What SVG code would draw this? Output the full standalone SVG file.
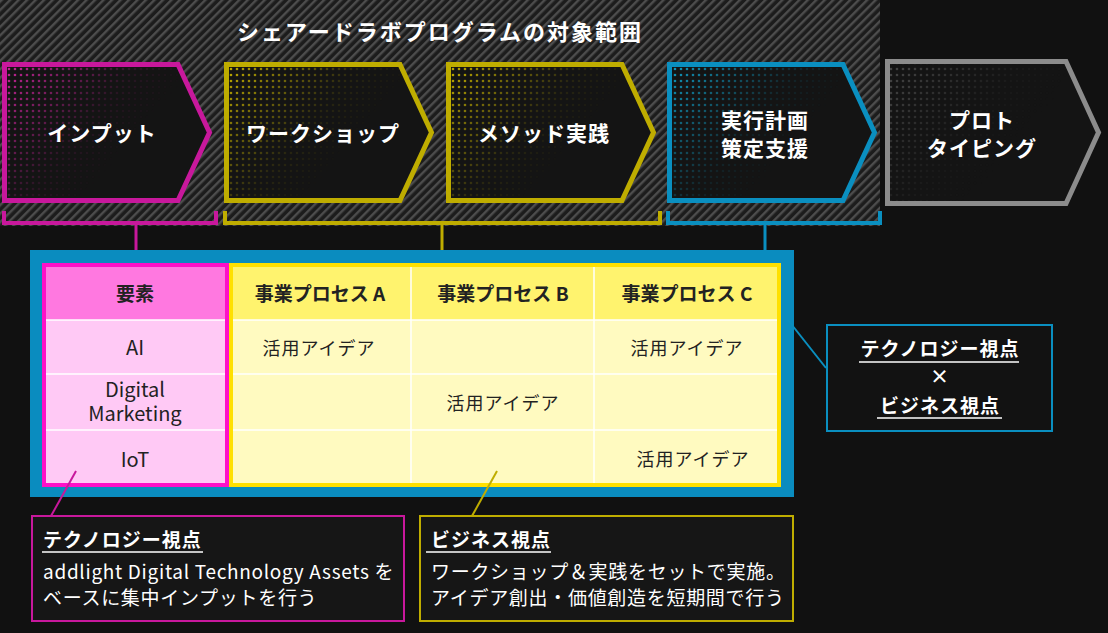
<svg xmlns="http://www.w3.org/2000/svg" width="1108" height="633" viewBox="0 0 1108 633">
<style>
text{font-family:"Noto Sans CJK JP","Noto Sans",sans-serif;}
.t-chev{font-size:21px;font-weight:700;fill:#fff;text-anchor:middle;letter-spacing:1px;}
.t-title{font-size:22px;font-weight:700;fill:#fff;text-anchor:middle;letter-spacing:2px;}
.t-head{font-size:19px;font-weight:700;fill:#222;text-anchor:middle;}
.t-cell{font-size:20px;fill:#222;text-anchor:middle;}
.t-idea{font-size:18px;fill:#222;text-anchor:middle;letter-spacing:1px;}
.t-cbold{font-size:19px;font-weight:700;fill:#fff;letter-spacing:1px;}
.t-cbody{font-size:19px;fill:#fff;letter-spacing:0.7px;}
.chev-bg{fill:#141414;}
.chev-line{fill:none;stroke-width:5;stroke-linejoin:miter;}
.under{stroke:#fff;stroke-width:1.6;}
.sep{stroke:#fff;stroke-width:1.5;}
</style>
<defs>
<pattern id="hatch" width="6" height="6" patternUnits="userSpaceOnUse" patternTransform="rotate(45)">
<rect width="6" height="6" fill="#1c1c1c"/>
<rect width="2.4" height="6" fill="#4d4d4d"/>
</pattern>
<pattern id="dotM" width="6" height="6" patternUnits="userSpaceOnUse"><circle cx="3" cy="3" r="1.3" fill="#d0259f"/></pattern>
<pattern id="dotY" width="6" height="6" patternUnits="userSpaceOnUse"><circle cx="3" cy="3" r="1.3" fill="#c9b400"/></pattern>
<pattern id="dotB" width="6" height="6" patternUnits="userSpaceOnUse"><circle cx="3" cy="3" r="1.3" fill="#10a0c8"/></pattern>
<pattern id="dotG" width="6" height="6" patternUnits="userSpaceOnUse"><circle cx="3" cy="3" r="1.3" fill="#4a4a4a"/></pattern>
<linearGradient id="fadeG" x1="0" y1="0" x2="0.9" y2="0.5">
<stop offset="0" stop-color="#fff" stop-opacity="0.95"/>
<stop offset="0.25" stop-color="#fff" stop-opacity="0.55"/>
<stop offset="0.55" stop-color="#fff" stop-opacity="0.12"/>
<stop offset="0.8" stop-color="#fff" stop-opacity="0"/>
</linearGradient>
<mask id="fade" maskContentUnits="objectBoundingBox">
<rect width="1" height="1" fill="url(#fadeG)"/>
</mask>
</defs>

<rect width="1108" height="633" fill="#111"/>
<rect x="0" y="0" width="880" height="226" fill="url(#hatch)"/>
<text class="t-title" x="440" y="40">シェアードラボプログラムの対象範囲</text>

<g id="node-input">
<path class="chev-bg" d="M4.5,64.5 H178 L209.5,132.5 L178,200.5 H4.5 Z"/>
<path fill="url(#dotM)" mask="url(#fade)" d="M7,67 H176 L207,132.5 L176,198 H7 Z"/>
<path class="chev-line" stroke="#c8189c" d="M4.5,64.5 H178 L209.5,132.5 L178,200.5 H4.5 Z"/>
<text class="t-chev" x="102" y="141">インプット</text>
</g>
<g id="node-workshop">
<path class="chev-bg" d="M226.5,64.5 H400 L431.5,132.5 L400,200.5 H226.5 Z"/>
<path fill="url(#dotY)" mask="url(#fade)" d="M229,67 H398 L429,132.5 L398,198 H229 Z"/>
<path class="chev-line" stroke="#bfad00" d="M226.5,64.5 H400 L431.5,132.5 L400,200.5 H226.5 Z"/>
<text class="t-chev" x="323" y="141">ワークショップ</text>
</g>
<g id="node-method">
<path class="chev-bg" d="M448.5,64.5 H622 L653.5,132.5 L622,200.5 H448.5 Z"/>
<path fill="url(#dotY)" mask="url(#fade)" d="M451,67 H620 L651,132.5 L620,198 H451 Z"/>
<path class="chev-line" stroke="#bfad00" d="M448.5,64.5 H622 L653.5,132.5 L622,200.5 H448.5 Z"/>
<text class="t-chev" x="544" y="141">メソッド実践</text>
</g>
<g id="node-plan">
<path class="chev-bg" d="M669.5,64.5 H843 L874.5,132.5 L843,200.5 H669.5 Z"/>
<path fill="url(#dotB)" mask="url(#fade)" d="M672,67 H841 L872,132.5 L841,198 H672 Z"/>
<path class="chev-line" stroke="#0a8fc0" d="M669.5,64.5 H843 L874.5,132.5 L843,200.5 H669.5 Z"/>
<text class="t-chev" x="765" y="128" letter-spacing="2">実行計画</text>
<text class="t-chev" x="765" y="156" letter-spacing="2">策定支援</text>
</g>
<g id="node-proto">
<path class="chev-bg" d="M887.5,61.5 H1066 L1098.5,132.5 L1066,203.5 H887.5 Z"/>
<path fill="url(#dotG)" mask="url(#fade)" d="M890,64 H1064 L1096,132.5 L1064,201 H890 Z"/>
<path class="chev-line" stroke="#8c8c8c" d="M887.5,61.5 H1066 L1098.5,132.5 L1066,203.5 H887.5 Z"/>
<text class="t-chev" x="982" y="128">プロト</text>
<text class="t-chev" x="982" y="156">タイピング</text>
</g>

<g id="connectors" fill="none">
<path d="M4,211 V223 H216 V211" stroke="#c8189c" stroke-width="4"/>
<path d="M136,225 V264" stroke="#c8189c" stroke-width="3"/>
<path d="M225,211 V223 H660 V211" stroke="#bfad00" stroke-width="4"/>
<path d="M442,225 V264" stroke="#bfad00" stroke-width="3"/>
<path d="M668,211 V223 H880 V211" stroke="#0a8fc0" stroke-width="4"/>
<path d="M765,225 V251" stroke="#0a8fc0" stroke-width="3"/>
</g>

<g id="matrix">
<rect x="30" y="250" width="764" height="247" fill="#0a8cbf"/>
<rect x="231" y="265" width="548" height="220" fill="#fffac0"/>
<rect x="231" y="265" width="548" height="55" fill="#fff36e"/>
<line class="sep" x1="231" y1="320" x2="779" y2="320"/>
<line class="sep" x1="231" y1="374" x2="779" y2="374"/>
<line class="sep" x1="231" y1="430" x2="779" y2="430"/>
<line class="sep" x1="411" y1="265" x2="411" y2="485"/>
<line class="sep" x1="594" y1="265" x2="594" y2="485"/>
<rect x="231" y="265" width="548" height="220" fill="none" stroke="#ffe000" stroke-width="4"/>
<rect x="44" y="265" width="183" height="220" fill="#ffc9f5"/>
<rect x="44" y="265" width="183" height="55" fill="#ff78e0"/>
<line class="sep" x1="44" y1="320" x2="227" y2="320"/>
<line class="sep" x1="44" y1="374" x2="227" y2="374"/>
<line class="sep" x1="44" y1="430" x2="227" y2="430"/>
<rect x="44" y="265" width="183" height="220" fill="none" stroke="#ff10c8" stroke-width="4"/>
<text class="t-head" x="135" y="301">要素</text>
<text class="t-head" x="320" y="301">事業プロセス A</text>
<text class="t-head" x="503" y="301">事業プロセス B</text>
<text class="t-head" x="687" y="301">事業プロセス C</text>
<text class="t-cell" x="135" y="355">AI</text>
<text class="t-cell" x="135" y="397" font-size="19.5">Digital</text>
<text class="t-cell" x="135" y="421" font-size="19.5">Marketing</text>
<text class="t-cell" x="135" y="467">IoT</text>
<text class="t-idea" x="319" y="355">活用アイデア</text>
<text class="t-idea" x="503" y="410">活用アイデア</text>
<text class="t-idea" x="687" y="355">活用アイデア</text>
<text class="t-idea" x="693" y="466">活用アイデア</text>
</g>

<g id="connectors-callouts" fill="none" stroke-width="2">
<line x1="788" y1="320" x2="826" y2="368" stroke="#0a8fc0"/>
<line x1="76" y1="471" x2="51" y2="516" stroke="#c8189c"/>
<line x1="497" y1="471" x2="472" y2="516" stroke="#bfad00"/>
</g>

<g id="callout-view">
<rect x="827" y="325" width="225" height="106" fill="#121212" stroke="#0a8fc0" stroke-width="2"/>
<text class="t-cbold" x="940" y="356" text-anchor="middle">テクノロジー視点</text>
<line class="under" x1="859" y1="362" x2="1019" y2="362"/>
<text class="t-cbold" x="940" y="384" text-anchor="middle">×</text>
<text class="t-cbold" x="940" y="413" text-anchor="middle">ビジネス視点</text>
<line class="under" x1="877" y1="418" x2="1002" y2="418"/>
</g>

<g id="callout-tech">
<rect x="32" y="516" width="372" height="105" fill="#161616" stroke="#c8189c" stroke-width="2"/>
<text class="t-cbold" x="43" y="547">テクノロジー視点</text>
<line class="under" x1="42" y1="552" x2="203" y2="552"/>
<text class="t-cbody" x="43" y="579" font-size="20" letter-spacing="0.3">addlight Digital Technology Assets を</text>
<text class="t-cbody" x="43" y="605">ベースに集中インプットを行う</text>
</g>

<g id="callout-biz">
<rect x="420" y="516" width="373" height="105" fill="#161616" stroke="#bfad00" stroke-width="2"/>
<text class="t-cbold" x="431" y="547">ビジネス視点</text>
<line class="under" x1="426" y1="552" x2="551" y2="552"/>
<text class="t-cbody" x="431" y="579">ワークショップ＆実践をセットで実施。</text>
<text class="t-cbody" x="431" y="605">アイデア創出・価値創造を短期間で行う</text>
</g>
</svg>
